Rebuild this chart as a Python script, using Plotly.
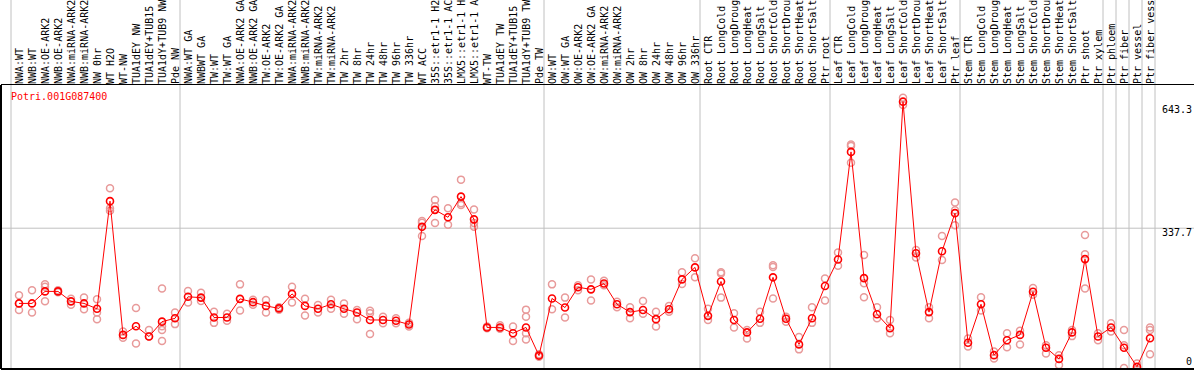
import plotly.graph_objects as go

title = "Potri.001G087400"

labels = [
    "NWA:WT", "NWB:WT", "NWA:OE-ARK2", "NWB:OE-ARK2", "NWA:miRNA-ARK2", "NWB:miRNA-ARK2",
    "NW 0hr", "WT H2O", "WT-NW", "TUA1dEY NW", "TUA1dEY+TUB15", "TUA1dY+TUB9 NW", "Pde NW",
    "NWA:WT GA", "NWBWT GA", "TW:WT", "TW:WT GA", "NWA:OE-ARK2 GA", "NWB:OE-ARK2 GA",
    "TW:OE-ARK2", "TW:OE-ARK2 GA", "NWA:miRNA-ARK2", "NWB:miRNA-ARK2", "TW:miRNA-ARK2",
    "TW:miRNA-ARK2", "TW 2hr", "TW 8hr", "TW 24hr", "TW 48hr", "TW 96hr", "TW 336hr",
    "WT ACC", "35S::etr1-1 H2O", "35S::etr1-1 ACC", "LMX5::etr1-1 H2O", "LMX5::etr1-1 ACC",
    "WT-TW", "TUA1dEY TW", "TUA1dEY+TUB15", "TUA1dY+TUB9 TW", "Pde TW",
    "OW:WT", "OW:WT GA", "OW:OE-ARK2", "OW:OE-ARK2 GA", "OW:miRNA-ARK2", "OW:miRNA-ARK2",
    "OW 2hr", "OW 8hr", "OW 24hr", "OW 48hr", "OW 96hr", "OW 336hr",
    "Root CTR", "Root LongCold", "Root LongDrought", "Root LongHeat", "Root LongSalt",
    "Root ShortCold", "Root ShortDrought", "Root ShortHeat", "Root ShortSalt", "Ptr root",
    "Leaf CTR", "Leaf LongCold", "Leaf LongDrought", "Leaf LongHeat", "Leaf LongSalt",
    "Leaf ShortCold", "Leaf ShortDrought", "Leaf ShortHeat", "Leaf ShortSalt", "Ptr leaf",
    "Stem CTR", "Stem LongCold", "Stem LongDrought", "Stem LongHeat", "Stem LongSalt",
    "Stem ShortCold", "Stem ShortDrought", "Stem ShortHeat", "Stem ShortSalt", "Ptr shoot",
    "Ptr xylem", "Ptr phloem", "Ptr fiber", "Ptr vessel", "Ptr fiber vessel",
]

# index of first sample of each group (group separators)
group_starts = [0, 13, 41, 53, 63, 73, 84, 85, 86, 87, 88]

means = [
    156, 156, 185, 185, 161, 156, 143, 403, 80, 101, 76, 112, 120,
    172, 170, 122, 122, 167, 159, 150, 144, 179, 150, 143, 154, 143, 134, 116, 116, 114, 105,
    341, 382, 364, 414, 359, 98, 98, 84, 98, 30,
    168, 146, 195, 190, 204, 154, 135, 140, 118, 142, 214, 243,
    126, 209, 116, 86, 119, 219, 119, 57, 120, 198,
    262, 522, 217, 130, 96, 643.3, 277, 135, 282, 374,
    61, 154, 31, 67, 80, 184, 49, 22, 86, 263, 76,
    98, 49, 3, 72,
]

replicates = [
    [176, 140, 156], [188, 134], [202, 196, 161], [188, 183], [167, 153], [170, 142],
    [166, 134, 118], [434, 386, 380], [88, 73], [145, 59], [92, 76], [192, 101, 92, 65],
    [134, 106],
    [186, 158], [182, 162], [136, 109], [131, 114], [202, 139], [165, 153], [164, 134],
    [147, 141], [196, 158], [167, 127], [152, 134], [165, 143], [156, 131], [140, 118],
    [138, 132, 82], [124, 108], [120, 108], [109, 100],
    [355, 351, 319], [406, 391, 350], [386, 346], [455, 398, 394], [383, 350, 341],
    [100, 96], [103, 95], [100, 65], [141, 124, 84, 69], [33, 27],
    [202, 142], [170, 122], [200, 188], [214, 163], [211, 200], [160, 147], [147, 120],
    [162, 131], [136, 100], [150, 136], [231, 203], [265, 219],
    [143, 116], [231, 228, 170], [132, 98], [92, 71], [136, 109], [248, 244, 168],
    [124, 112], [75, 45], [147, 109], [216, 163],
    [279, 247], [540, 536, 496], [273, 205, 171], [147, 120], [116, 84], [653, 635],
    [285, 267], [147, 120], [319, 261], [400, 381, 345],
    [71, 52], [171, 139], [40, 23], [84, 50], [90, 57], [193, 177], [55, 35], [31, 7],
    [92, 77], [321, 275, 192], [84, 67],
    [108, 88], [92, 55, 0], [11, 0], [98, 92, 33],
]

y_ticks = [0, 337.7, 643.3]
y_tick_text = ["0", "337.7", "643.3"]

# ---------------- layout constants (pixels) ----------------
W, H = 1194, 370
ML, MR, MT, MB = 1, 0, 85, 1
PW, PH = W - ML - MR, H - MT - MB
X0PX, STEP = 19, 13          # pixel of first sample, pixel step
ZERO_PX, PX_PER_UNIT = 368, 0.414

x_range = [(ML - X0PX) / STEP, (W - MR - X0PX) / STEP]
y_range = [(ZERO_PX - (H - MB)) / PX_PER_UNIT, (ZERO_PX - MT) / PX_PER_UNIT]

FONT = "DejaVu Sans Mono"
RED = "#ff0000"
PINK = "#e89a9a"
GRID = "#c0c0c0"

xs = list(range(len(labels)))
rep_x, rep_y = [], []
for i, reps in enumerate(replicates):
    for r in reps:
        rep_x.append(i)
        rep_y.append(r)

fig = go.Figure()
fig.add_trace(go.Scatter(
    x=rep_x, y=rep_y, mode="markers",
    marker=dict(symbol="circle-open", size=7, color=PINK, line=dict(width=1.5, color=PINK)),
    hoverinfo="skip", showlegend=False, cliponaxis=True,
))
fig.add_trace(go.Scatter(
    x=xs, y=means, mode="lines+markers",
    line=dict(color=RED, width=1),
    marker=dict(symbol="circle-open", size=7, color=RED, line=dict(width=1.6, color=RED)),
    showlegend=False, cliponaxis=True,
))

shapes = []
top_ext = 1 + MT / PH
for g in group_starts:
    gx = g - (X0PX - 11) / STEP
    shapes.append(dict(type="line", xref="x", yref="paper", x0=gx, x1=gx, y0=0, y1=top_ext,
                       line=dict(color=GRID, width=1), layer="below"))
# horizontal grid at the middle tick
shapes.append(dict(type="line", xref="paper", yref="y", x0=0, x1=1, y0=337.7, y1=337.7,
                   line=dict(color=GRID, width=1), layer="below"))
# borders
shapes.append(dict(type="line", xref="paper", yref="paper", x0=0, x1=1, y0=0, y1=0,
                   line=dict(color="black", width=2)))
shapes.append(dict(type="line", xref="paper", yref="paper", x0=0, x1=0, y0=0, y1=1,
                   line=dict(color="black", width=2)))

annotations = [dict(
    text=title, xref="paper", yref="paper", x=(9 - ML) / PW, y=1 - (97 - MT) / PH,
    xanchor="left", yanchor="middle", showarrow=False,
    font=dict(family=FONT, size=10, color=RED),
)]
label_shift = {0: -1, 337.7: 3, 643.3: 0}
for v, t in zip(y_ticks, y_tick_text):
    annotations.append(dict(
        text=t, xref="paper", yref="y", x=1, y=v,
        xanchor="right", yanchor="bottom" if v == 0 else "top", showarrow=False,
        font=dict(family=FONT, size=10, color="black"),
        yshift=label_shift[v],
    ))

fig.update_layout(
    width=W, height=H,
    margin=dict(l=ML, r=MR, t=MT, b=MB, pad=0),
    paper_bgcolor="white", plot_bgcolor="white",
    font=dict(family=FONT, size=10, color="black"),
    xaxis=dict(
        range=x_range, side="top", tickmode="array", tickvals=xs, ticktext=labels,
        tickangle=-90, ticks="", showgrid=False, zeroline=False,
        showline=True, linecolor="black", linewidth=1, mirror=False,
        tickfont=dict(family=FONT, size=10, color="black"), automargin=False,
        ticklabelstandoff=-2, ticklabelshift=1,
    ),
    yaxis=dict(
        range=y_range, showgrid=False, zeroline=False, showticklabels=False, ticks="",
        showline=False, automargin=False,
    ),
    shapes=shapes, annotations=annotations,
)

fig.write_html(
    "out.html",
    config={"displayModeBar": False},
    post_script="document.body.style.margin='0';document.body.style.overflow='hidden';",
)
